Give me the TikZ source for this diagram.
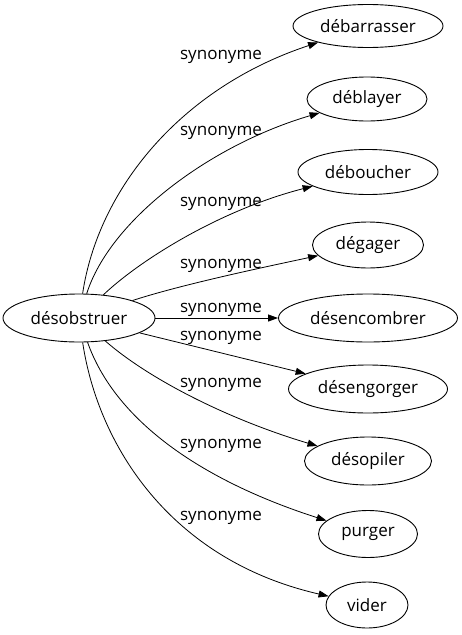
\documentclass[tikz,border=0pt]{standalone}
\usepackage{fontspec}
\setmainfont{Open Sans}
\usetikzlibrary{arrows.meta,shapes.geometric}
\begin{document}
\begin{tikzpicture}[x=1pt,y=-1pt,
  word/.style={draw, ellipse, line width=0.9pt, inner sep=0pt, font=\fontsize{17}{19}\selectfont},
  rel/.style={line width=0.8pt, -{Triangle[length=10pt,width=7pt]}},
  lab/.style={font=\fontsize{17}{19}\selectfont, inner sep=0pt, anchor=base}]
\useasboundingbox (0,0) rectangle (461,635);
\node[word, minimum width=152pt, minimum height=48pt] (src) at (79,318) {désobstruer};
\node[word, minimum width=150pt, minimum height=43pt] (t1) at (368,26) {débarrasser};
\node[word, minimum width=120pt, minimum height=44pt] (t2) at (367,99) {déblayer};
\node[word, minimum width=140pt, minimum height=45pt] (t3) at (368,172) {déboucher};
\node[word, minimum width=111pt, minimum height=46pt] (t4) at (368,245) {dégager};
\node[word, minimum width=179pt, minimum height=48pt] (t5) at (368,318) {désencombrer};
\node[word, minimum width=159pt, minimum height=48pt] (t6) at (368,389) {désengorger};
\node[word, minimum width=127pt, minimum height=48pt] (t7) at (368,461) {désopiler};
\node[word, minimum width=99pt, minimum height=47pt] (t8) at (368,534) {purger};
\node[word, minimum width=82pt, minimum height=46pt] (t9) at (367,605) {vider};

\draw[rel] (src) .. controls (98,190) and (180,88) .. (t1);
\draw[rel] (src) .. controls (110,220) and (210,145) .. (t2);
\draw[rel] (src) .. controls (140,260) and (220,210) .. (t3);
\draw[rel] (src) .. controls (180,285) and (260,268) .. (t4);
\draw[rel] (src) -- (t5);
\draw[rel] (src) -- (t6);
\draw[rel] (src) .. controls (150,380) and (230,420) .. (t7);
\draw[rel] (src) .. controls (115,420) and (200,480) .. (t8);
\draw[rel] (src) .. controls (98,445) and (170,560) .. (t9);

\node[lab] (l1) at (221,59) {synonyme};
\node[lab] (l2) at (221,135.5) {synonyme};
\node[lab] (l3) at (221,206.5) {synonyme};
\node[lab] (l4) at (221,268.5) {synonyme};
\node[lab] (l5) at (221,312) {synonyme};
\node[lab] (l6) at (221,340.5) {synonyme};
\node[lab] (l7) at (221,387.5) {synonyme};
\node[lab] (l8) at (221,448.5) {synonyme};
\node[lab] (l9) at (221,520.5) {synonyme};
\end{tikzpicture}
\end{document}
